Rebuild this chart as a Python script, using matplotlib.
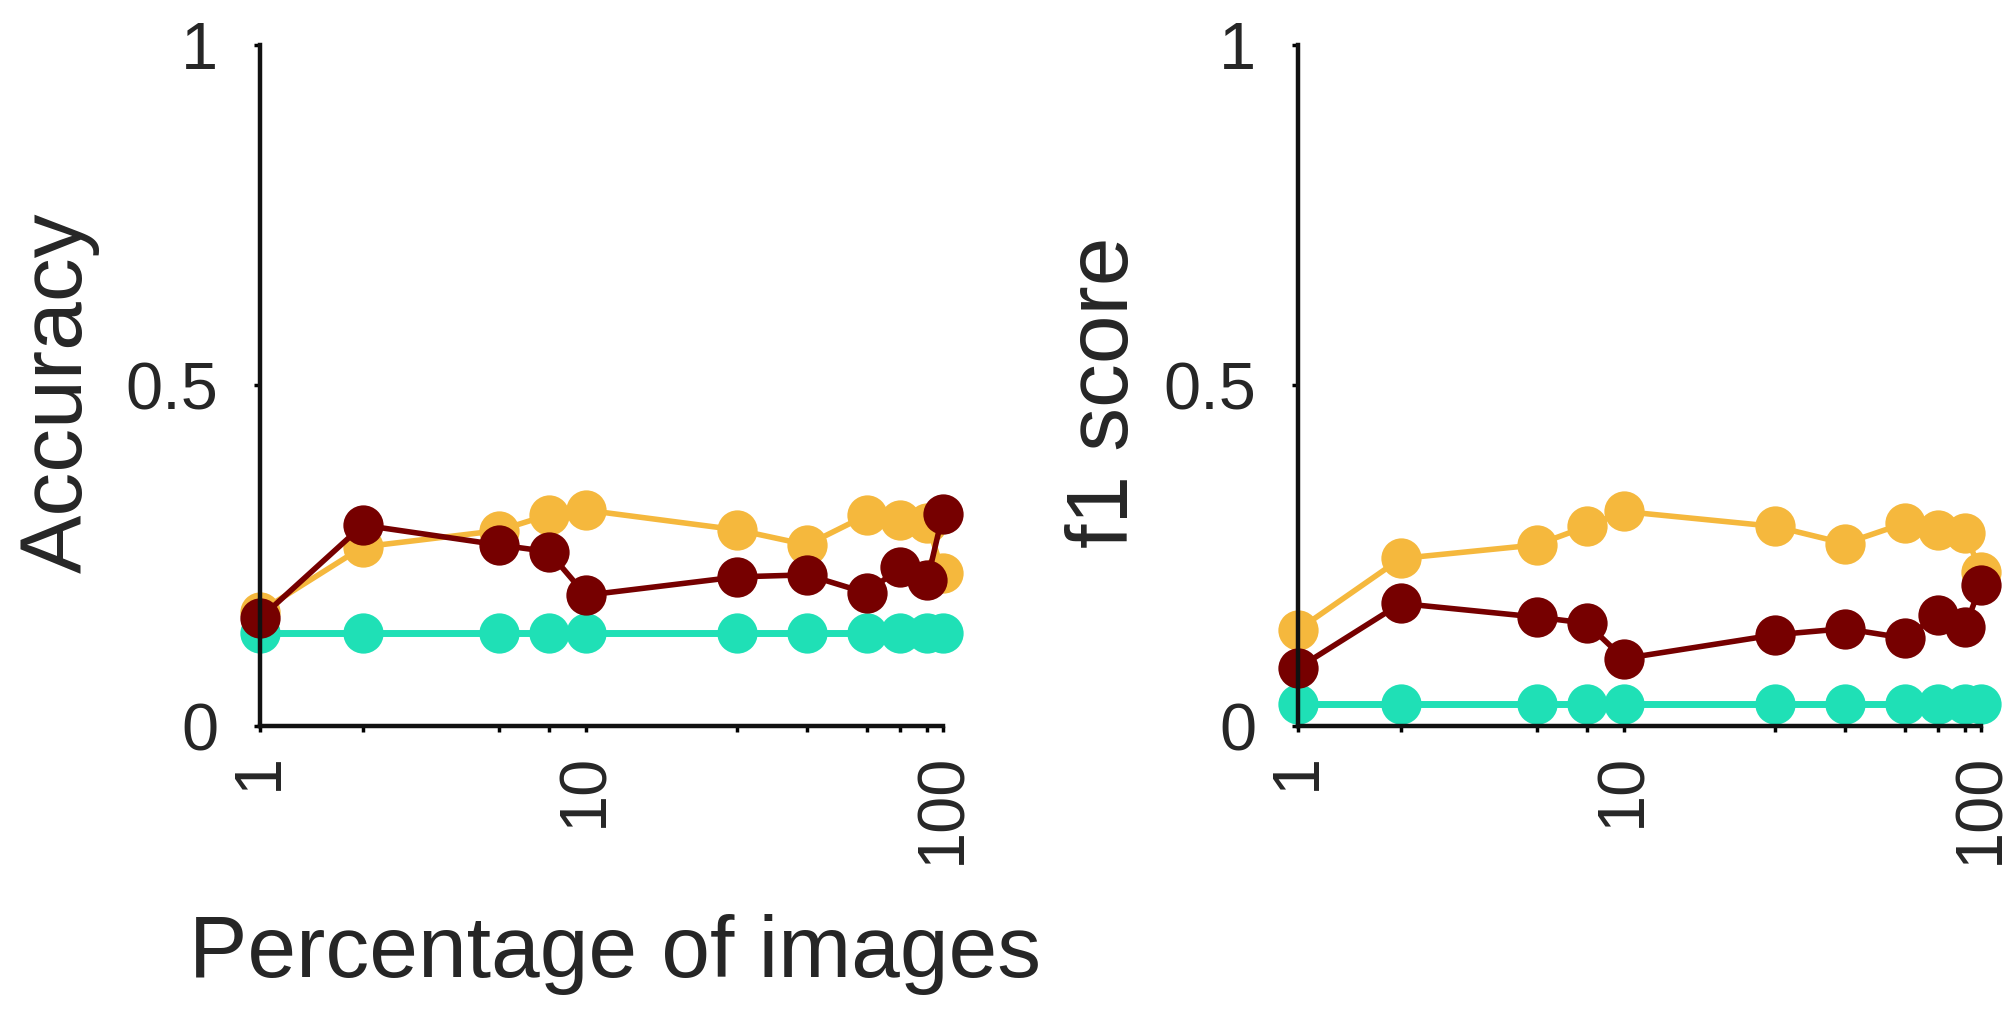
import numpy as np
import matplotlib
matplotlib.use("Agg")
import matplotlib.pyplot as plt

# percentage of images used (ticks sit on every point, only three are labelled)
pct_images = [1, 2, 5, 7, 9, 25, 40, 60, 75, 90, 100]
xtick_labels = ["1", "", "", "", "10", "", "", "", "", "", "100"]

# accuracy panel
acc_teal = [0.137] * 11
acc_yellow = [0.168, 0.263, 0.287, 0.310, 0.317, 0.288, 0.266, 0.310, 0.302, 0.298, 0.225]
acc_red = [0.158, 0.295, 0.266, 0.256, 0.192, 0.219, 0.222, 0.195, 0.234, 0.214, 0.312]

# f1 panel
f1_teal = [0.033] * 11
f1_yellow = [0.141, 0.246, 0.266, 0.293, 0.315, 0.293, 0.268, 0.298, 0.288, 0.283, 0.226]
f1_red = [0.085, 0.180, 0.160, 0.151, 0.099, 0.134, 0.143, 0.129, 0.163, 0.146, 0.207]

ytick_vals = [0, 0.5, 1]
ytick_labels = ["0", "0.5", "1"]

TEAL = "#1fe0b6"
YELLOW = "#f5b83d"
RED = "#760000"
INK = "#262626"

plt.rcParams["font.family"] = ["Liberation Sans", "DejaVu Sans"]

fig = plt.figure(figsize=(20.08, 10.15), dpi=100)
ax_acc = fig.add_axes([0.1295, 0.2847, 0.3401, 0.671])
ax_f1 = fig.add_axes([0.6464, 0.2847, 0.3401, 0.671])


def draw_panel(ax, teal, yellow, red, ylabel, label_x):
    for vals, col, lw in [(teal, TEAL, 5), (yellow, YELLOW, 4), (red, RED, 4)]:
        ax.plot(pct_images, vals, "-o", color=col, lw=lw, ms=29,
                markeredgewidth=0, clip_on=False)
    ax.set_xscale("log")
    ax.set_xlim(1, 100)
    ax.set_ylim(0, 1)
    ax.set_xticks(pct_images)
    ax.set_xticklabels(xtick_labels, rotation=90, fontsize=48, color=INK)
    ax.xaxis.set_minor_locator(matplotlib.ticker.NullLocator())
    ax.set_yticks(ytick_vals)
    ax.set_yticklabels(ytick_labels, fontsize=48, color=INK)
    ax.tick_params(axis="x", direction="out", length=4, width=2.5, pad=15, color="black")
    ax.tick_params(axis="y", direction="out", length=4, width=2.5, pad=26, color="black")
    for side in ["top", "right"]:
        ax.spines[side].set_visible(False)
    for side in ["left", "bottom"]:
        ax.spines[side].set_linewidth(3.2)
        ax.spines[side].set_color("#111111")
    ax.set_ylabel(ylabel, fontsize=63, color=INK)
    ax.yaxis.set_label_coords(label_x, 0.49)
    ax.set_facecolor("none")


draw_panel(ax_acc, acc_teal, acc_yellow, acc_red, "Accuracy", -0.234)
draw_panel(ax_f1, f1_teal, f1_yellow, f1_red, "f1 score", -0.222)

ax_acc.set_xlabel("Percentage of images", fontsize=63, color=INK)
ax_acc.xaxis.set_label_coords(0.52, -0.395)
ax_acc.xaxis.label.set_va("bottom")

fig.savefig("out.png", dpi=100, facecolor="white")
